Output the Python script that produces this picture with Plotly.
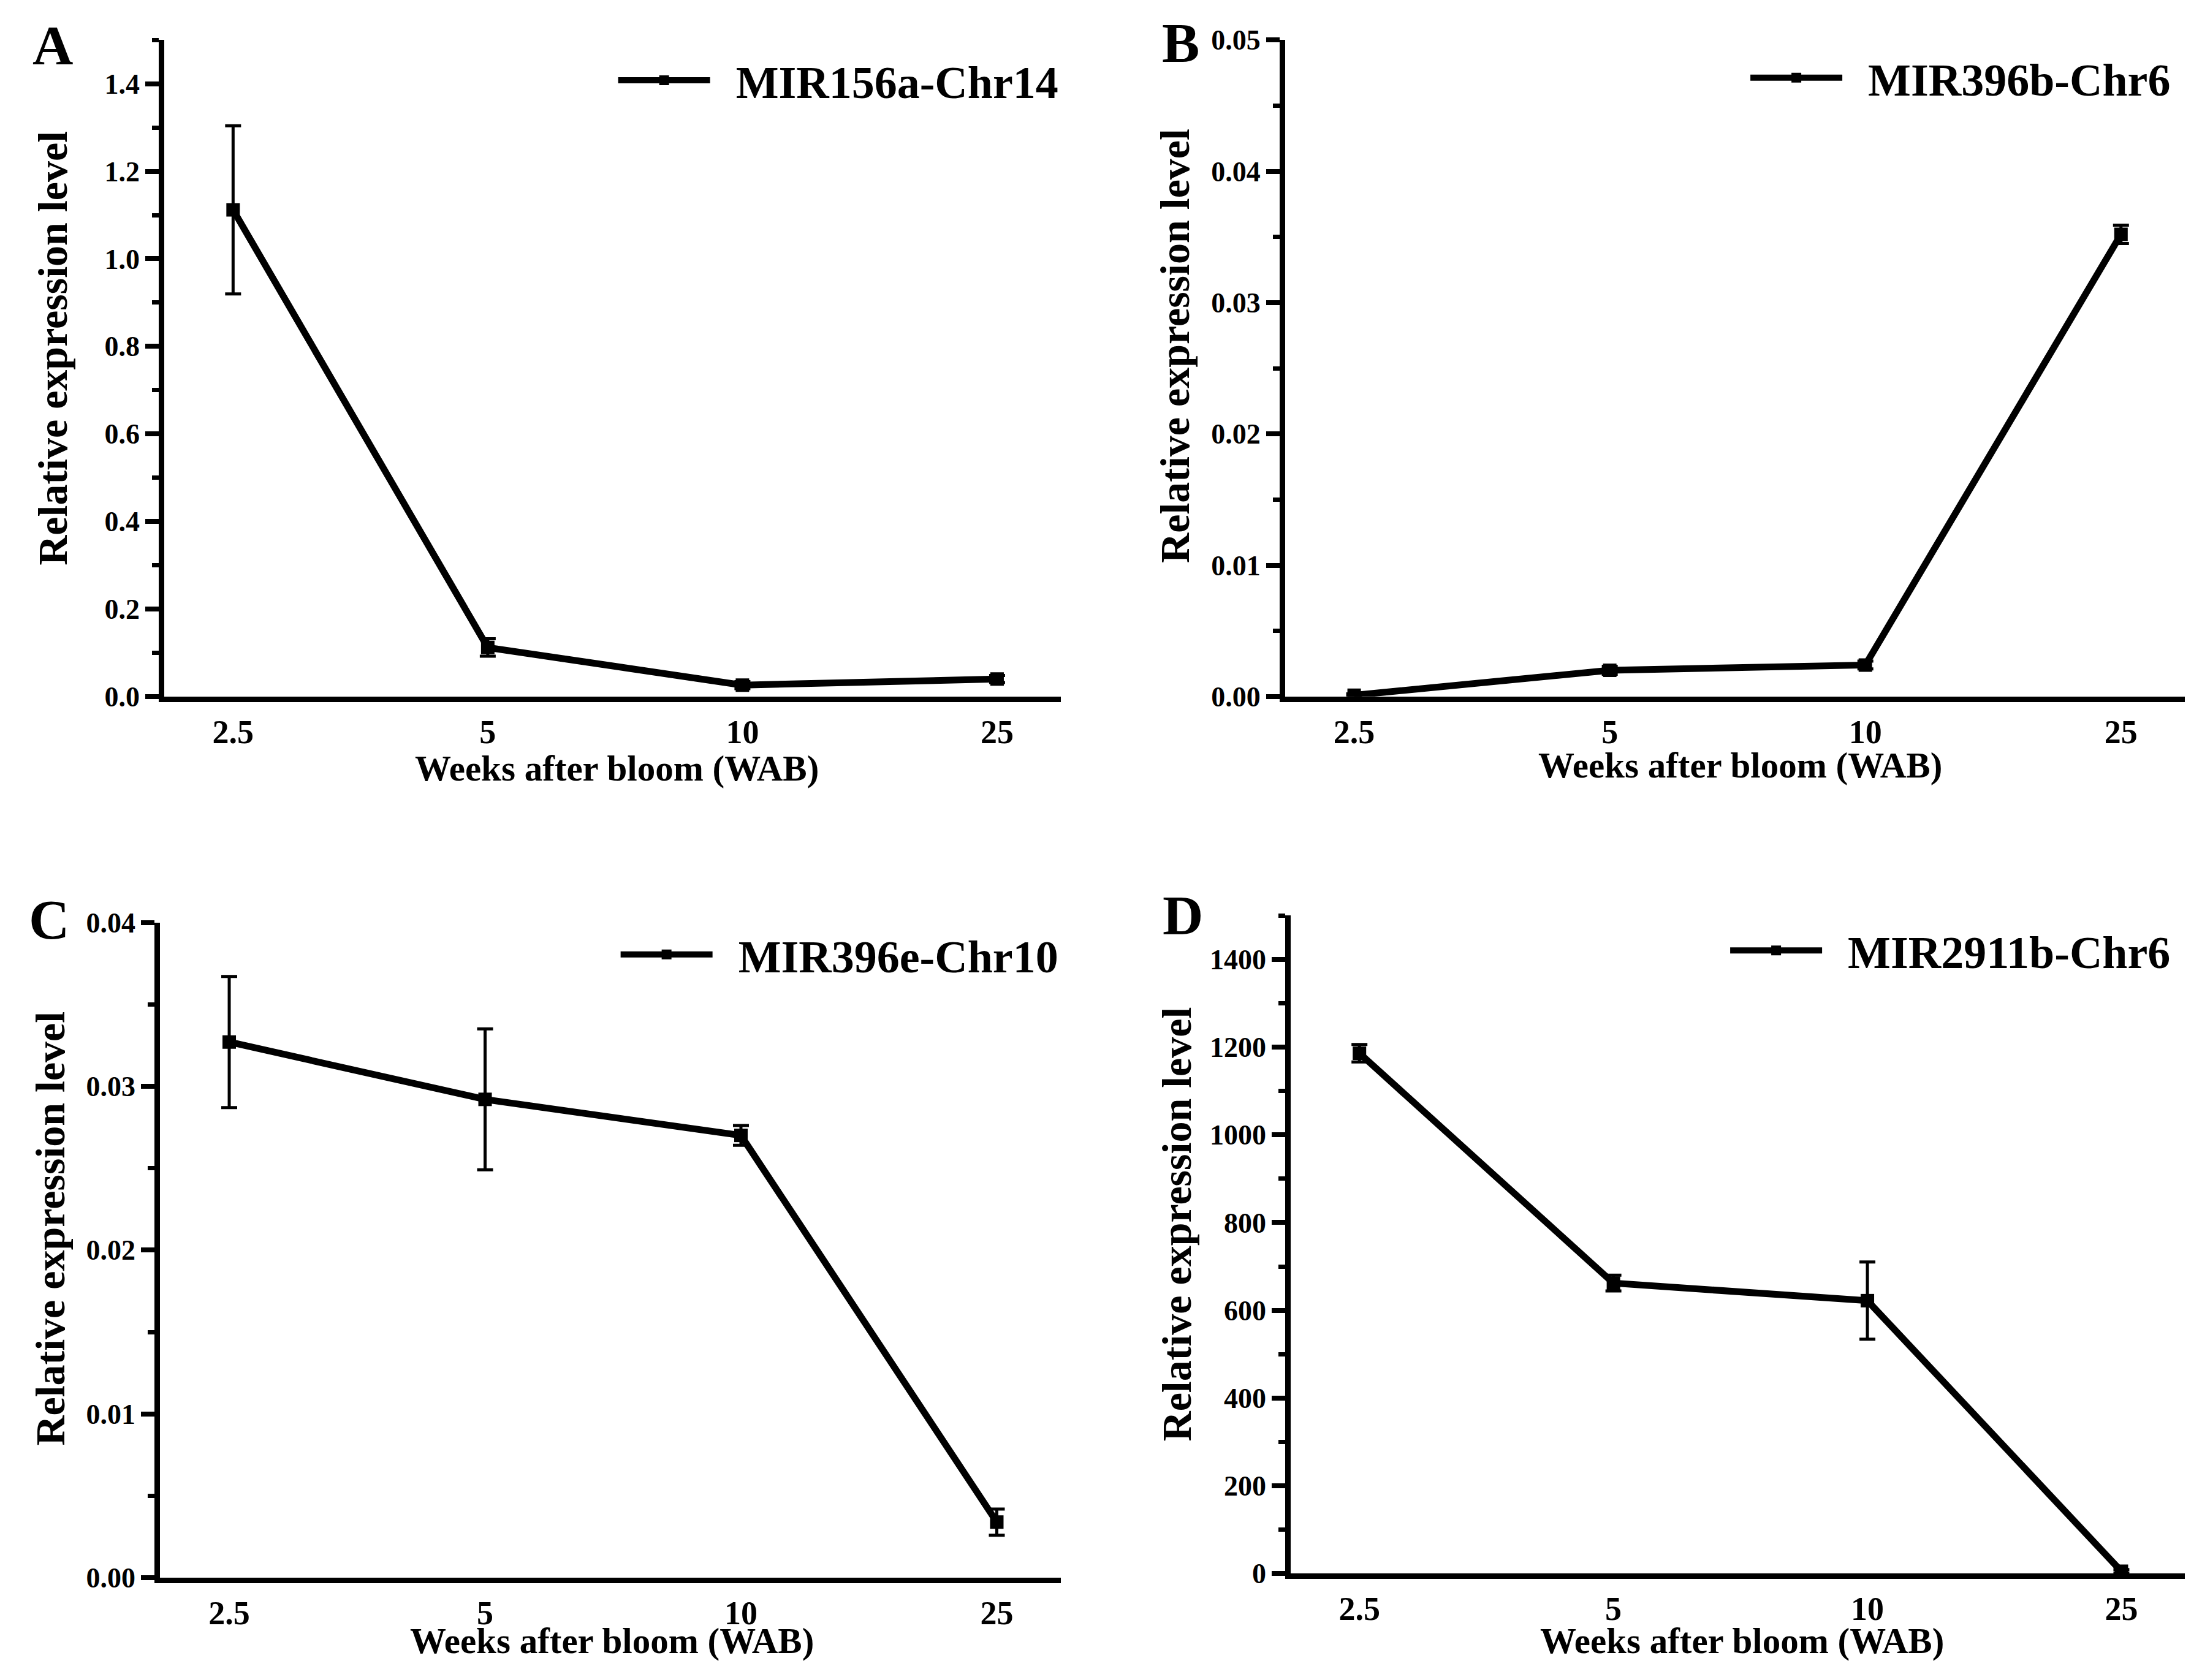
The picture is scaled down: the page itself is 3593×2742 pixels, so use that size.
import plotly.graph_objects as go

weeks = ["2.5", "5", "10", "25"]

names = ["MIR156a-Chr14", "MIR396b-Chr6", "MIR396e-Chr10", "MIR2911b-Chr6"]
panel_letters = ["A", "B", "C", "D"]

a_mean = [1.112, 0.112, 0.026, 0.040]
a_err = [0.192, 0.020, 0.008, 0.008]
b_mean = [0.0001, 0.0020, 0.0024, 0.0352]
b_err = [0.0001, 0.0003, 0.0003, 0.0007]
c_mean = [0.0327, 0.0292, 0.0270, 0.0034]
c_err = [0.0040, 0.0043, 0.0006, 0.0008]
d_mean = [1186, 662, 622, 5]
d_err = [20, 18, 88, 4]

y_ranges = [[0, 1.5], [0, 0.05], [0, 0.04], [0, 1500]]
y_dticks = [0.2, 0.01, 0.01, 200]
y_formats = [".1f", ".2f", ".2f", "d"]

x_title = "Weeks after bloom (WAB)"
y_title = "Relative expression level"

means = [a_mean, b_mean, c_mean, d_mean]
errs = [a_err, b_err, c_err, d_err]

FONT = "Liberation Serif"
W, H = 3593, 2742

# layout geometry (paper fractions)
x_domains = [[0.0724, 0.4795], [0.5814, 0.990], [0.0705, 0.4795], [0.584, 0.990]]
y_domains = [[0.5898, 0.988], [0.5898, 0.988], [0.0553, 0.4528], [0.0579, 0.457]]
legend_pos = [(0.480, 0.9634), (0.985, 0.965), (0.480, 0.4332), (0.985, 0.4357)]
letter_pos = [(0.0218, 0.9847), (0.534, 0.9864), (0.020, 0.4545), (0.535, 0.457)]
xtitle_pos = [(0.278, 0.5464), (0.788, 0.548), (0.2756, 0.0172), (0.789, 0.0172)]
ytitle_pos = [(0.0215, 0.801), (0.5315, 0.8026), (0.0205, 0.2672), (0.532, 0.2698)]

fig = go.Figure()
annotations = []
layout = dict(
    width=W, height=H,
    margin=dict(l=0, r=0, t=0, b=0),
    paper_bgcolor="white", plot_bgcolor="white",
    font=dict(family=FONT, color="black", weight="bold"),
)

for i in range(4):
    sfx = "" if i == 0 else str(i + 1)
    lg = "legend" if i == 0 else f"legend{i + 1}"
    fig.add_trace(go.Scatter(
        x=weeks, y=means[i],
        mode="lines+markers",
        name="\u2002" + names[i],
        line=dict(color="black", width=11),
        marker=dict(symbol="square", size=22, color="black"),
        error_y=dict(type="data", array=errs[i], visible=True,
                     color="black", thickness=5, width=13),
        xaxis="x" + sfx, yaxis="y" + sfx,
        legend=lg,
        showlegend=True,
    ))
    layout["xaxis" + sfx] = dict(
        domain=x_domains[i], anchor="y" + sfx,
        type="category", range=[-0.27, 3.25],
        showline=True, linecolor="black", linewidth=9,
        showgrid=False, zeroline=False,
        ticks="outside", ticklen=2, tickcolor="rgba(0,0,0,0)",
        tickfont=dict(family=FONT, size=54, color="black", weight="bold"),
    )
    layout["yaxis" + sfx] = dict(
        domain=y_domains[i], anchor="x" + sfx,
        range=y_ranges[i], dtick=y_dticks[i], tick0=0,
        tickformat=y_formats[i],
        showline=True, linecolor="black", linewidth=9,
        showgrid=False, zeroline=False,
        ticks="outside", ticklen=22, tickwidth=8, tickcolor="black",
        minor=dict(dtick=y_dticks[i] / 2, ticks="outside", ticklen=11,
                   tickwidth=7, tickcolor="black"),
        tickfont=dict(family=FONT, size=46, color="black", weight="bold"),
    )
    lx, ly = legend_pos[i]
    layout[lg] = dict(
        x=lx, y=ly, xanchor="right", yanchor="middle",
        xref="paper", yref="paper",
        bgcolor="rgba(0,0,0,0)", borderwidth=0,
        font=dict(family=FONT, size=74, color="black", weight="bold"),
        itemwidth=150,
    )
    px_, py_ = letter_pos[i]
    annotations.append(dict(
        text=panel_letters[i], x=px_, y=py_, xref="paper", yref="paper",
        xanchor="center", yanchor="middle", showarrow=False,
        font=dict(family=FONT, size=92, color="black", weight="bold"),
    ))
    tx, ty = xtitle_pos[i]
    annotations.append(dict(
        text=x_title, x=tx, y=ty, xref="paper", yref="paper",
        xanchor="center", yanchor="middle", showarrow=False,
        font=dict(family=FONT, size=59, color="black", weight="bold"),
    ))
    yx, yy = ytitle_pos[i]
    annotations.append(dict(
        text=y_title, x=yx, y=yy, xref="paper", yref="paper",
        xanchor="center", yanchor="middle", showarrow=False, textangle=-90,
        font=dict(family=FONT, size=68, color="black", weight="bold"),
    ))

layout["annotations"] = annotations
fig.update_layout(**layout)
fig.write_html("out.html")
